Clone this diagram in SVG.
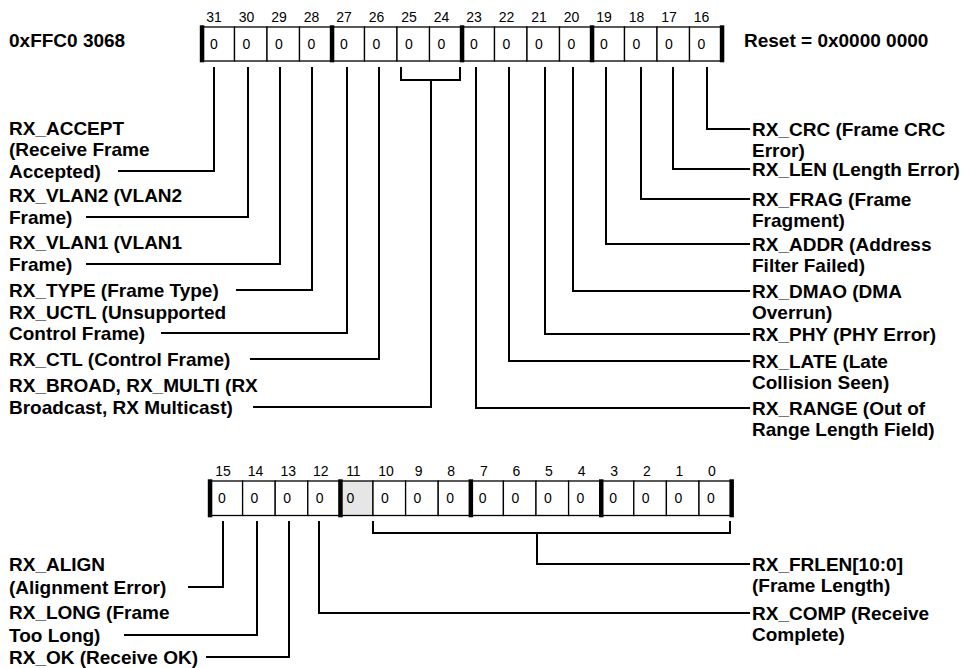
<svg xmlns="http://www.w3.org/2000/svg" width="970" height="668" viewBox="0 0 970 668">
<style>
.lbl{font-family:"Liberation Sans",Arial,Helvetica,sans-serif;font-weight:bold;font-size:19px;fill:#000}
.bit{font-family:"Liberation Sans",Arial,Helvetica,sans-serif;font-size:14px;fill:#000;text-anchor:middle}
.val{font-family:"Liberation Sans",Arial,Helvetica,sans-serif;font-size:14px;fill:#000}
.cell{fill:#fff;stroke:#000;stroke-width:1.3}
.res{fill:#e6e6e6;stroke:#000;stroke-width:1.3}
.thick{fill:#000}
.conn{fill:none;stroke:#000;stroke-width:2}
</style>
<rect width="970" height="668" fill="#fff"/>

<g id="header">
<text class="lbl" x="9" y="47">0xFFC0 3068</text>
<text class="lbl" x="744" y="47">Reset = 0x0000 0000</text>
</g>

<g id="reg-top">
<g>
<rect class="cell" x="202" y="27" width="32.5" height="34"/>
<rect class="cell" x="234.5" y="27" width="32.5" height="34"/>
<rect class="cell" x="267" y="27" width="32.5" height="34"/>
<rect class="cell" x="299.5" y="27" width="32.5" height="34"/>
<rect class="cell" x="332" y="27" width="32.5" height="34"/>
<rect class="cell" x="364.5" y="27" width="32.5" height="34"/>
<rect class="cell" x="397" y="27" width="32.5" height="34"/>
<rect class="cell" x="429.5" y="27" width="32.5" height="34"/>
<rect class="cell" x="462" y="27" width="32.5" height="34"/>
<rect class="cell" x="494.5" y="27" width="32.5" height="34"/>
<rect class="cell" x="527" y="27" width="32.5" height="34"/>
<rect class="cell" x="559.5" y="27" width="32.5" height="34"/>
<rect class="cell" x="592" y="27" width="32.5" height="34"/>
<rect class="cell" x="624.5" y="27" width="32.5" height="34"/>
<rect class="cell" x="657" y="27" width="32.5" height="34"/>
<rect class="cell" x="689.5" y="27" width="32.5" height="34"/>
</g>
<g>
<rect class="thick" x="199.8" y="25.3" width="4.5" height="37"/>
<rect class="thick" x="329.8" y="25.3" width="4.5" height="37"/>
<rect class="thick" x="459.8" y="25.3" width="4.5" height="37"/>
<rect class="thick" x="589.8" y="25.3" width="4.5" height="37"/>
<rect class="thick" x="719.8" y="25.3" width="4.5" height="37"/>
</g>
<g>
<text class="bit" x="214" y="22">31</text>
<text class="bit" x="246.5" y="22">30</text>
<text class="bit" x="279" y="22">29</text>
<text class="bit" x="311.5" y="22">28</text>
<text class="bit" x="344" y="22">27</text>
<text class="bit" x="376.5" y="22">26</text>
<text class="bit" x="409" y="22">25</text>
<text class="bit" x="441.5" y="22">24</text>
<text class="bit" x="474" y="22">23</text>
<text class="bit" x="506.5" y="22">22</text>
<text class="bit" x="539" y="22">21</text>
<text class="bit" x="571.5" y="22">20</text>
<text class="bit" x="604" y="22">19</text>
<text class="bit" x="636.5" y="22">18</text>
<text class="bit" x="669" y="22">17</text>
<text class="bit" x="701.5" y="22">16</text>
</g>
<g>
<text class="val" x="210" y="49">0</text>
<text class="val" x="242.5" y="49">0</text>
<text class="val" x="275" y="49">0</text>
<text class="val" x="307.5" y="49">0</text>
<text class="val" x="340" y="49">0</text>
<text class="val" x="372.5" y="49">0</text>
<text class="val" x="405" y="49">0</text>
<text class="val" x="437.5" y="49">0</text>
<text class="val" x="470" y="49">0</text>
<text class="val" x="502.5" y="49">0</text>
<text class="val" x="535" y="49">0</text>
<text class="val" x="567.5" y="49">0</text>
<text class="val" x="600" y="49">0</text>
<text class="val" x="632.5" y="49">0</text>
<text class="val" x="665" y="49">0</text>
<text class="val" x="697.5" y="49">0</text>
</g>
</g>

<g id="reg-bottom">
<g>
<rect class="cell" x="210" y="481" width="32.6" height="34.5"/>
<rect class="cell" x="242.6" y="481" width="32.6" height="34.5"/>
<rect class="cell" x="275.2" y="481" width="32.6" height="34.5"/>
<rect class="cell" x="307.8" y="481" width="32.6" height="34.5"/>
<rect class="res" x="340.4" y="481" width="32.6" height="34.5"/>
<rect class="cell" x="373" y="481" width="32.6" height="34.5"/>
<rect class="cell" x="405.6" y="481" width="32.6" height="34.5"/>
<rect class="cell" x="438.2" y="481" width="32.6" height="34.5"/>
<rect class="cell" x="470.8" y="481" width="32.6" height="34.5"/>
<rect class="cell" x="503.4" y="481" width="32.6" height="34.5"/>
<rect class="cell" x="536" y="481" width="32.6" height="34.5"/>
<rect class="cell" x="568.6" y="481" width="32.6" height="34.5"/>
<rect class="cell" x="601.2" y="481" width="32.6" height="34.5"/>
<rect class="cell" x="633.8" y="481" width="32.6" height="34.5"/>
<rect class="cell" x="666.4" y="481" width="32.6" height="34.5"/>
<rect class="cell" x="699" y="481" width="32.6" height="34.5"/>
</g>
<g>
<rect class="thick" x="207.8" y="479.3" width="4.5" height="38"/>
<rect class="thick" x="338.2" y="479.3" width="4.5" height="38"/>
<rect class="thick" x="468.6" y="479.3" width="4.5" height="38"/>
<rect class="thick" x="599" y="479.3" width="4.5" height="38"/>
<rect class="thick" x="729.4" y="479.3" width="4.5" height="38"/>
</g>
<g>
<text class="bit" x="223" y="476">15</text>
<text class="bit" x="255.6" y="476">14</text>
<text class="bit" x="288.2" y="476">13</text>
<text class="bit" x="320.8" y="476">12</text>
<text class="bit" x="353.4" y="476">11</text>
<text class="bit" x="386" y="476">10</text>
<text class="bit" x="418.6" y="476">9</text>
<text class="bit" x="451.2" y="476">8</text>
<text class="bit" x="483.8" y="476">7</text>
<text class="bit" x="516.4" y="476">6</text>
<text class="bit" x="549" y="476">5</text>
<text class="bit" x="581.6" y="476">4</text>
<text class="bit" x="614.2" y="476">3</text>
<text class="bit" x="646.8" y="476">2</text>
<text class="bit" x="679.4" y="476">1</text>
<text class="bit" x="712" y="476">0</text>
</g>
<g>
<text class="val" x="218" y="503">0</text>
<text class="val" x="250.6" y="503">0</text>
<text class="val" x="283.2" y="503">0</text>
<text class="val" x="315.8" y="503">0</text>
<text class="val" x="346.4" y="503">0</text>
<text class="val" x="381" y="503">0</text>
<text class="val" x="413.6" y="503">0</text>
<text class="val" x="446.2" y="503">0</text>
<text class="val" x="478.8" y="503">0</text>
<text class="val" x="511.4" y="503">0</text>
<text class="val" x="544" y="503">0</text>
<text class="val" x="576.6" y="503">0</text>
<text class="val" x="609.2" y="503">0</text>
<text class="val" x="641.8" y="503">0</text>
<text class="val" x="674.4" y="503">0</text>
<text class="val" x="707" y="503">0</text>
</g>
</g>

<g id="connectors">
<path class="conn" d="M214,67V171H118"/>
<path class="conn" d="M248,67V217H86"/>
<path class="conn" d="M280,67V264H86"/>
<path class="conn" d="M312,67V290H236"/>
<path class="conn" d="M347,67V333H161"/>
<path class="conn" d="M379,67V359H250"/>
<path class="conn" d="M401,67V80H460V67"/>
<path class="conn" d="M431,80V407H253"/>
<path class="conn" d="M476,67V408H750"/>
<path class="conn" d="M509,67V361H750"/>
<path class="conn" d="M545,67V334H750"/>
<path class="conn" d="M573,67V291H750"/>
<path class="conn" d="M606,67V244H750"/>
<path class="conn" d="M641,67V199H750"/>
<path class="conn" d="M673,67V169H750"/>
<path class="conn" d="M707,67V129H750"/>
<path class="conn" d="M223,521V587H188"/>
<path class="conn" d="M257,521V635H124"/>
<path class="conn" d="M289,521V657H206"/>
<path class="conn" d="M319,521V613H750"/>
<path class="conn" d="M373,521V533H730V521"/>
<path class="conn" d="M537,533V564H750"/>
</g>

<g id="lbl-rx-accept"><text class="lbl" x="9" y="134.5">RX_ACCEPT</text><text class="lbl" x="9" y="156">(Receive Frame</text><text class="lbl" x="9" y="177.5">Accepted)</text></g>
<g id="lbl-rx-vlan2"><text class="lbl" x="9" y="202">RX_VLAN2 (VLAN2</text><text class="lbl" x="9" y="223.5">Frame)</text></g>
<g id="lbl-rx-vlan1"><text class="lbl" x="9" y="249">RX_VLAN1 (VLAN1</text><text class="lbl" x="9" y="270.5">Frame)</text></g>
<g id="lbl-rx-type"><text class="lbl" x="9" y="296.5">RX_TYPE (Frame Type)</text></g>
<g id="lbl-rx-uctl"><text class="lbl" x="9" y="318.5">RX_UCTL (Unsupported</text><text class="lbl" x="9" y="340">Control Frame)</text></g>
<g id="lbl-rx-ctl"><text class="lbl" x="9" y="366">RX_CTL (Control Frame)</text></g>
<g id="lbl-rx-broad"><text class="lbl" x="9" y="392">RX_BROAD, RX_MULTI (RX</text><text class="lbl" x="9" y="413.5">Broadcast, RX Multicast)</text></g>

<g id="lbl-rx-crc"><text class="lbl" x="752" y="135.5">RX_CRC (Frame CRC</text><text class="lbl" x="752" y="157">Error)</text></g>
<g id="lbl-rx-len"><text class="lbl" x="752" y="176">RX_LEN (Length Error)</text></g>
<g id="lbl-rx-frag"><text class="lbl" x="752" y="205.5">RX_FRAG (Frame</text><text class="lbl" x="752" y="227">Fragment)</text></g>
<g id="lbl-rx-addr"><text class="lbl" x="752" y="250.5">RX_ADDR (Address</text><text class="lbl" x="752" y="272">Filter Failed)</text></g>
<g id="lbl-rx-dmao"><text class="lbl" x="752" y="297.5">RX_DMAO (DMA</text><text class="lbl" x="752" y="319">Overrun)</text></g>
<g id="lbl-rx-phy"><text class="lbl" x="752" y="340.5">RX_PHY (PHY Error)</text></g>
<g id="lbl-rx-late"><text class="lbl" x="752" y="367.5">RX_LATE (Late</text><text class="lbl" x="752" y="389">Collision Seen)</text></g>
<g id="lbl-rx-range"><text class="lbl" x="752" y="414.5">RX_RANGE (Out of</text><text class="lbl" x="752" y="436">Range Length Field)</text></g>

<g id="lbl-rx-align"><text class="lbl" x="9" y="571">RX_ALIGN</text><text class="lbl" x="9" y="593.5">(Alignment Error)</text></g>
<g id="lbl-rx-long"><text class="lbl" x="9" y="619">RX_LONG (Frame</text><text class="lbl" x="9" y="641.5">Too Long)</text></g>
<g id="lbl-rx-ok"><text class="lbl" x="9" y="663.5">RX_OK (Receive OK)</text></g>
<g id="lbl-rx-frlen"><text class="lbl" x="752" y="570.5">RX_FRLEN[10:0]</text><text class="lbl" x="752" y="592">(Frame Length)</text></g>
<g id="lbl-rx-comp"><text class="lbl" x="752" y="619.5">RX_COMP (Receive</text><text class="lbl" x="752" y="641">Complete)</text></g>
</svg>
